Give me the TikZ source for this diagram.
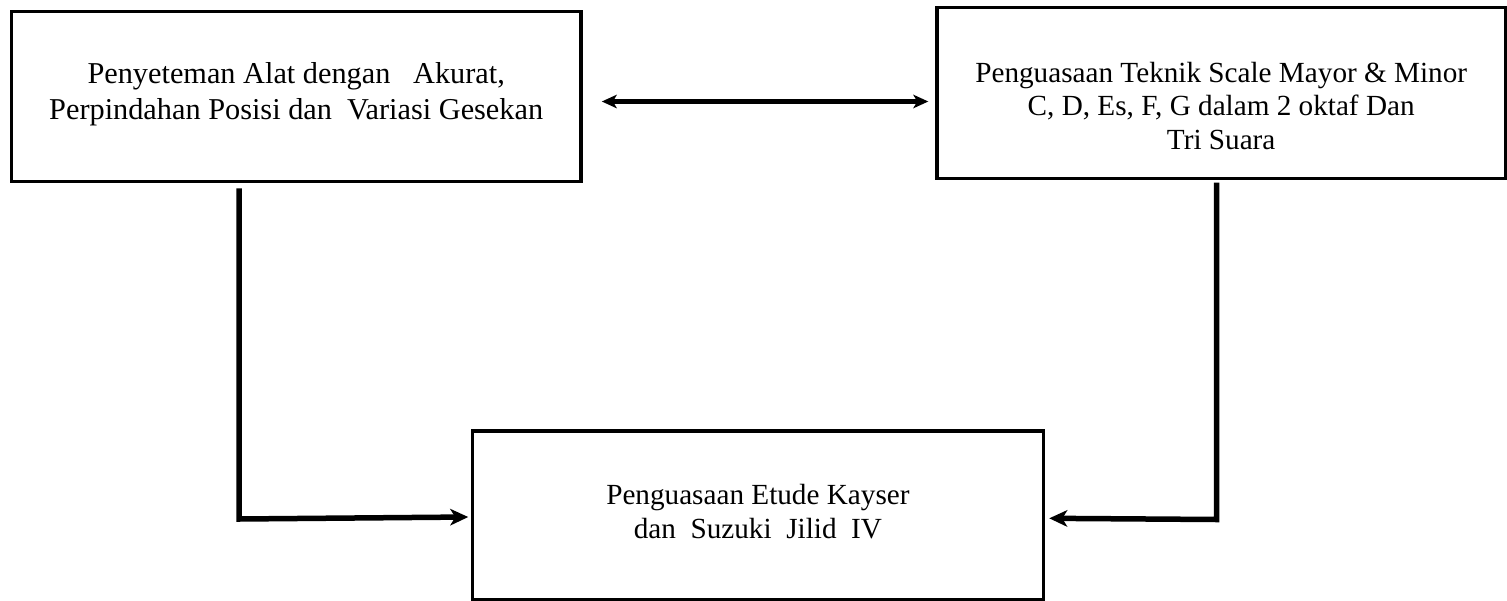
\documentclass[tikz,border=0pt]{standalone}
\usepackage{fontspec}
\setmainfont{Liberation Serif}
\usetikzlibrary{arrows.meta}
\begin{document}
\begin{tikzpicture}[x=1pt,y=-1pt,
  box/.style={draw, line width=3.5pt, rectangle, inner sep=0pt},
  txt/.style={align=center, inner sep=0pt},
  conn/.style={line width=5.5pt, line join=miter, -{Stealth[length=18pt,width=16.5pt,inset=5pt]}},
  biarr/.style={line width=5pt, {Stealth[length=15pt,width=13.5pt,inset=4pt]}-{Stealth[length=15pt,width=13.5pt,inset=4pt]}}]
\useasboundingbox (0,0) rectangle (1507,600);

% boxes
\node[box, minimum width=569.7pt, minimum height=169.6pt] (A) at (296.2,96.5) {};
\node[box, minimum width=568.3pt, minimum height=170.6pt] (B) at (1221.2,93) {};
\node[box, minimum width=571.2pt, minimum height=169pt] (C) at (757.9,515.5) {};

% texts
\node[txt, font=\fontsize{30.3}{35.7}\selectfont] (At) at (296.2,94.1)
  {Penyeteman Alat dengan\ \ \ Akurat,\\Perpindahan Posisi dan\ \ Variasi Gesekan};
\node[txt, font=\fontsize{29.2}{33.2}\selectfont] (Bt) at (1221.2,106)
  {Penguasaan Teknik Scale Mayor \& Minor\\C, D, Es, F, G dalam 2 oktaf Dan\\Tri Suara};
\node[txt, font=\fontsize{29.2}{34.3}\selectfont] (Ct) at (757.9,511.3)
  {Penguasaan Etude Kayser\\dan\ \ Suzuki\ \ Jilid\ \ IV};

% connectors
\draw[biarr] ([xshift=19pt,yshift=-5pt]A.east) -- ([xshift=-7pt,yshift=-8.5pt]B.west);

\coordinate (L1) at (239,188.3);
\coordinate (L2) at (239,519);
\draw[conn] (L1) -- (L2) -- ([xshift=-2.3pt,yshift=-1.5pt]C.west);

\coordinate (R1) at (1216.5,182.7);
\coordinate (R2) at (1216.5,519.5);
\draw[conn] (R1) -- (R2) -- ([xshift=4pt,yshift=-2.8pt]C.east);
\end{tikzpicture}
\end{document}
